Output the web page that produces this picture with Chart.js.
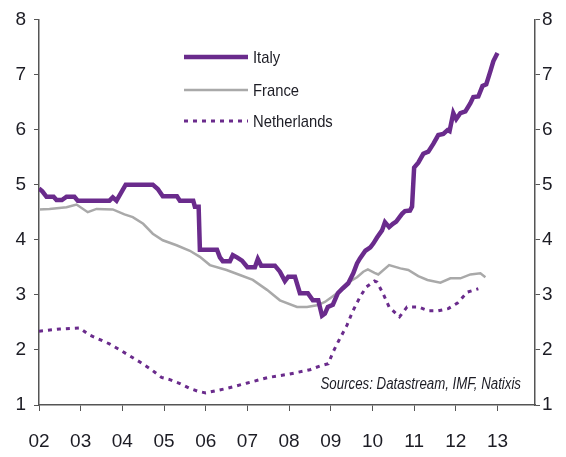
<!DOCTYPE html>
<html>
<head>
<script src="https://cdn.jsdelivr.net/npm/chart.js@4.4.1/dist/chart.umd.min.js"></script>
<style>
    body { margin: 0; background: #fff; }
    #wrap { width: 566px; height: 457px; position: relative; }
</style>
</head>
<body>
<div id="wrap"><canvas id="chart"></canvas></div>
<script>
// decimal years and yields (%)
const italyYears = [2002.00,2002.08,2002.18,2002.35,2002.42,2002.55,2002.66,2002.85,2002.93,2003.69,2003.77,2003.86,2004.08,2004.73,2004.85,2004.97,2005.31,2005.38,2005.70,2005.74,2005.83,2005.86,2006.27,2006.34,2006.41,2006.58,2006.65,2006.75,2006.87,2007.00,2007.18,2007.25,2007.33,2007.66,2007.78,2007.90,2007.98,2008.14,2008.26,2008.45,2008.57,2008.70,2008.79,2008.86,2008.93,2009.05,2009.17,2009.29,2009.42,2009.54,2009.63,2009.70,2009.83,2009.95,2010.02,2010.11,2010.23,2010.30,2010.40,2010.49,2010.57,2010.71,2010.78,2010.90,2010.95,2011.00,2011.10,2011.22,2011.34,2011.46,2011.58,2011.70,2011.80,2011.85,2011.94,2012.01,2012.11,2012.23,2012.35,2012.42,2012.54,2012.64,2012.73,2012.83,2012.90,2013.00];
const italyRates = [4.93,4.88,4.78,4.78,4.72,4.72,4.78,4.78,4.71,4.71,4.77,4.71,5.0,5.0,4.92,4.79,4.79,4.71,4.71,4.6,4.6,3.82,3.82,3.68,3.61,3.61,3.72,3.68,3.62,3.5,3.5,3.65,3.53,3.53,3.42,3.25,3.33,3.33,3.03,3.03,2.9,2.9,2.62,2.66,2.78,2.82,3.03,3.12,3.21,3.39,3.57,3.66,3.8,3.86,3.93,4.04,4.17,4.32,4.23,4.29,4.33,4.47,4.52,4.53,4.6,5.31,5.4,5.56,5.6,5.74,5.9,5.92,5.99,5.97,6.3,6.19,6.3,6.33,6.48,6.59,6.6,6.79,6.82,7.06,7.24,7.39];

const franceYears = [2002.00,2002.25,2002.66,2002.90,2003.17,2003.38,2003.77,2004.05,2004.25,2004.50,2004.73,2004.97,2005.30,2005.62,2005.86,2006.10,2006.50,2006.82,2007.13,2007.47,2007.78,2008.19,2008.43,2008.67,2008.86,2009.15,2009.39,2009.63,2009.78,2009.89,2010.05,2010.14,2010.40,2010.67,2010.86,2011.10,2011.32,2011.63,2011.87,2012.11,2012.35,2012.59,2012.71];
const franceRates = [4.55,4.56,4.59,4.64,4.5,4.56,4.55,4.46,4.41,4.29,4.11,3.99,3.9,3.8,3.69,3.54,3.45,3.36,3.27,3.09,2.9,2.78,2.78,2.81,2.87,3.03,3.21,3.32,3.42,3.46,3.4,3.37,3.54,3.48,3.45,3.34,3.27,3.22,3.3,3.3,3.37,3.39,3.32];

const nlYears = [2002.00,2002.50,2002.97,2003.21,2003.69,2003.94,2004.42,2004.70,2004.94,2005.14,2005.38,2005.62,2005.81,2006.00,2006.50,2007.00,2007.50,2008.00,2008.50,2008.75,2008.94,2009.06,2009.20,2009.39,2009.52,2009.70,2009.85,2010.05,2010.11,2010.25,2010.40,2010.65,2010.83,2011.10,2011.34,2011.58,2011.82,2012.04,2012.28,2012.54];
const nlRates = [2.34,2.38,2.4,2.27,2.11,2.0,1.78,1.64,1.5,1.46,1.39,1.3,1.25,1.22,1.3,1.4,1.5,1.56,1.64,1.71,1.75,1.97,2.18,2.45,2.69,2.96,3.14,3.25,3.23,3.03,2.78,2.6,2.78,2.78,2.71,2.71,2.75,2.85,3.05,3.11];

const seriesNames = ['Italy', 'France', 'Netherlands'];
const sourceNote = 'Sources: Datastream, IMF, Natixis';

const purple = '#6a2b8c';
const axisColor = '#555555';
const textColor = '#1c1c24';
const sans = '"Liberation Sans", Arial, sans-serif';
const tickFont = { family: sans, size: 19 };

function pairs(xs, ys) {
    return xs.map((x, i) => ({ x: x, y: ys[i] }));
}

// narrow-looking text: squeeze horizontally
function squeezed(ctx, text, x, y, sx) {
    ctx.save();
    ctx.translate(x, y);
    ctx.scale(sx, 1);
    ctx.fillText(text, 0, 0);
    ctx.restore();
}

// legend inside the plot + source note
const overlay = {
    id: 'overlay',
    afterDraw(chart) {
        const ctx = chart.ctx;
        const rows = [57, 90, 121];
        ctx.save();
        chart.data.datasets.forEach((ds, i) => {
            ctx.beginPath();
            ctx.strokeStyle = ds.borderColor;
            ctx.lineWidth = ds.borderWidth;
            ctx.setLineDash(ds.borderDash || []);
            ctx.moveTo(184, rows[i]);
            ctx.lineTo(248, rows[i]);
            ctx.stroke();
        });
        ctx.setLineDash([]);
        ctx.fillStyle = textColor;
        ctx.font = '17px ' + sans;
        ctx.textBaseline = 'middle';
        ctx.textAlign = 'left';
        seriesNames.forEach((n, i) => squeezed(ctx, n, 253, rows[i] + 1, 0.87));
        ctx.font = 'italic 16px ' + sans;
        ctx.textAlign = 'right';
        squeezed(ctx, sourceNote, 521, 385, 0.83);
        ctx.restore();
    }
};

const yScale = (pos, width, pad) => ({
    type: 'linear',
    position: pos,
    min: 1,
    max: 8,
    ticks: { stepSize: 1, color: textColor, font: tickFont, padding: pad },
    grid: { drawOnChartArea: false, tickLength: 5, tickColor: axisColor },
    border: { display: true, color: axisColor, width: 1.5 },
    afterFit(s) { s.width = width; }
});

new Chart(document.getElementById('chart'), {
    type: 'line',
    data: {
        datasets: [
            { label: seriesNames[0], data: pairs(italyYears, italyRates), borderColor: purple, borderWidth: 4.5, pointRadius: 0, yAxisID: 'y' },
            { label: seriesNames[1], data: pairs(franceYears, franceRates), borderColor: '#a9a9a9', borderWidth: 2.5, pointRadius: 0, yAxisID: 'y' },
            { label: seriesNames[2], data: pairs(nlYears, nlRates), borderColor: purple, borderWidth: 3, borderDash: [4, 5], pointRadius: 0, yAxisID: 'y' }
        ]
    },
    options: {
        responsive: true,
        maintainAspectRatio: false,
        animation: false,
        layout: { padding: { top: 17, left: 0, right: 0, bottom: 0 } },
        plugins: { legend: { display: false }, tooltip: { enabled: false } },
        scales: {
            x: {
                type: 'linear',
                min: 2002,
                max: 2013.9,
                ticks: {
                    stepSize: 1,
                    includeBounds: false,
                    color: textColor,
                    font: tickFont,
                    padding: 19,
                    maxRotation: 0,
                    callback: v => String(v % 100).padStart(2, '0')
                },
                grid: { drawOnChartArea: false, tickLength: 6, tickColor: axisColor },
                border: { display: true, color: axisColor, width: 1.5 },
                afterFit(s) { s.height = 52; }
            },
            y: yScale('left', 39, 8),
            y2: yScale('right', 31, 2)
        }
    },
    plugins: [overlay]
});
</script>
</body>
</html>
